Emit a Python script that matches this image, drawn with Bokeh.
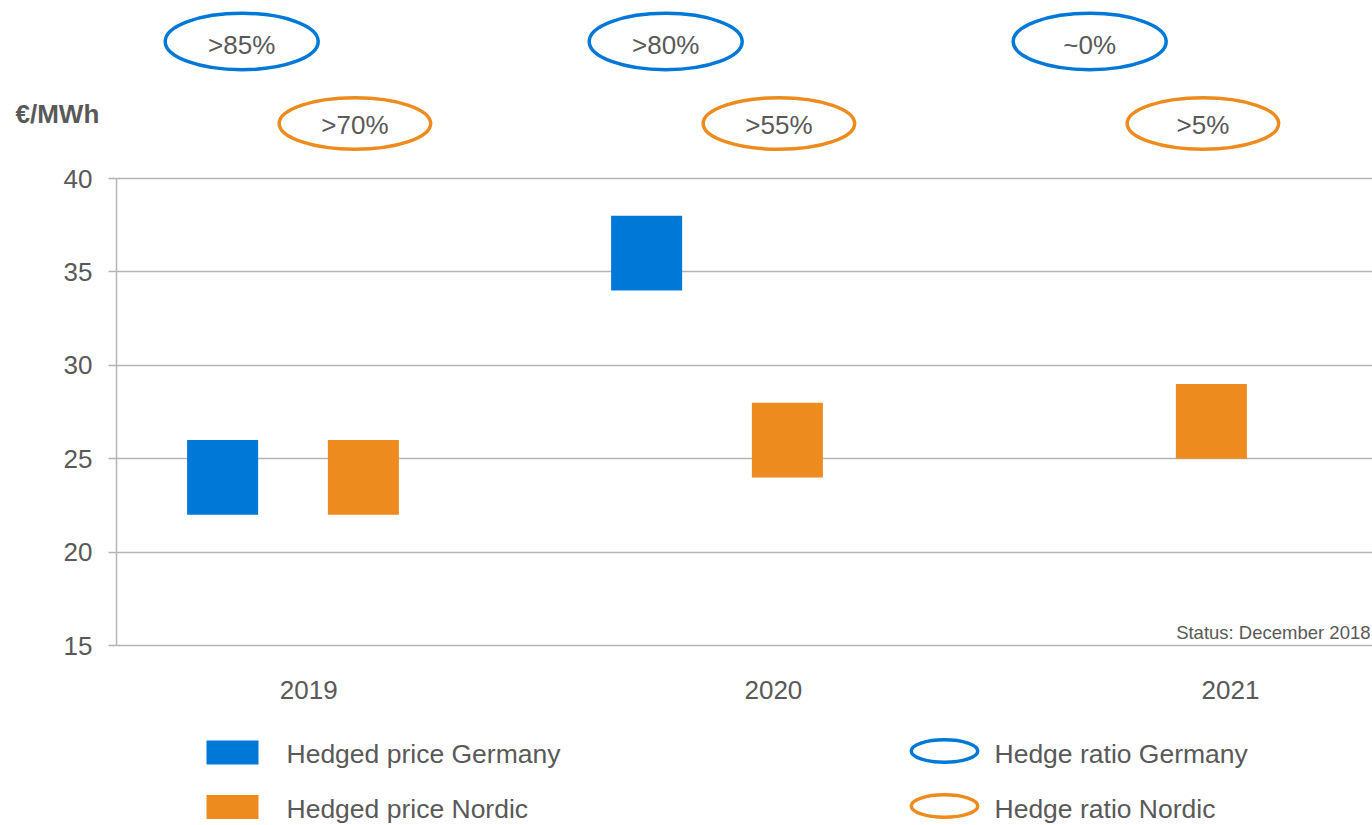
import numpy as np
from bokeh.plotting import figure
from bokeh.models import Range1d, FixedTicker
from bokeh.core.properties import value
from bokeh.embed import file_html
from bokeh.resources import INLINE

# ---------------- data ----------------
years = ["2019", "2020", "2021"]
germany_low = [22, 34, np.nan]
germany_high = [26, 38, np.nan]
nordic_low = [22, 24, 25]
nordic_high = [26, 28, 29]
germany_ratio = [">85%", ">80%", "~0%"]
nordic_ratio = [">70%", ">55%", ">5%"]
y_ticks = [15, 20, 25, 30, 35, 40]
unit_label = "€/MWh"
status_note = "Status: December 2018"
legend_price = ["Hedged price Germany", "Hedged price Nordic"]
legend_ratio = ["Hedge ratio Germany", "Hedge ratio Nordic"]

# ---------------- style / layout ----------------
BLUE = "#0078D7"
ORANGE = "#EE8B1E"
TEXT = "#595959"
GRID = "#B4B4B4"
FONT = "Liberation Sans"
W, H = 1372, 825
GROUP_PX = 424.0     # pixels between year groups
G0_PX = 292.5        # page x of first group centre
Y_PX = 18.68         # pixels per EUR/MWh
AXIS_PX = 116        # page x of the value axis


def X(px):
    return (px - G0_PX) / GROUP_PX


def Y(py):
    return 40.0 + (178.0 - py) / Y_PX


idx = np.arange(len(years))
BAR_OFF = 0.166
BAR_W = 0.1675
YEAR_SHIFT = np.array([0.037, 0.133, 0.211])

p = figure(width=W, height=H, x_range=Range1d(X(0), X(W)),
           y_range=Range1d(Y(H), Y(0)), output_backend="svg",
           toolbar_location=None, tools="", title=None,
           x_axis_location=None, y_axis_location="left",
           min_border_left=0, min_border_right=0,
           min_border_top=0, min_border_bottom=0)
p.outline_line_color = None
p.background_fill_color = "white"
p.border_fill_color = "white"

ax = p.yaxis[0]
ax.fixed_location = X(AXIS_PX)
ax.ticker = FixedTicker(ticks=y_ticks)
ax.bounds = (min(y_ticks), max(y_ticks))
ax.axis_line_color = GRID
ax.axis_line_width = 1.5
ax.major_tick_line_color = GRID
ax.major_tick_line_width = 1.5
ax.major_tick_out = 8
ax.major_tick_in = 0
ax.minor_tick_line_color = None
ax.major_label_text_font = FONT
ax.major_label_text_font_size = "26px"
ax.major_label_text_color = TEXT
ax.major_label_standoff = 16

p.xgrid.visible = False
grid = p.ygrid[0]
if "cross_bounds" in grid.properties():
    grid.ticker = FixedTicker(ticks=y_ticks)
    grid.cross_bounds = (X(AXIS_PX), X(W))
    grid.grid_line_color = GRID
    grid.grid_line_width = 1.5
else:
    grid.visible = False
    p.segment(x0=X(AXIS_PX), x1=X(W), y0=y_ticks, y1=y_ticks,
              line_color=GRID, line_width=1.5)

# floating bars
p.vbar(x=idx - BAR_OFF, bottom=germany_low, top=germany_high, width=BAR_W,
       fill_color=BLUE, line_color=None)
p.vbar(x=idx + BAR_OFF, bottom=nordic_low, top=nordic_high, width=BAR_W,
       fill_color=ORANGE, line_color=None)

# hedge ratio ellipses
txt = dict(text_font=value(FONT), text_font_size=value("26px"),
           text_color=TEXT, text_align="center", text_baseline="middle")
p.ellipse(x=idx - 0.121, y=Y(41), width=153, height=56.5,
          width_units="screen", height_units="screen",
          fill_color=None, line_color=BLUE, line_width=3.5)
p.text(x=idx - 0.121, y=Y(44), text=germany_ratio, **txt)
p.ellipse(x=idx + 0.146, y=Y(123), width=151.5, height=51.5,
          width_units="screen", height_units="screen",
          fill_color=None, line_color=ORANGE, line_width=3.5)
p.text(x=idx + 0.146, y=Y(124.5), text=nordic_ratio, **txt)

# year labels
p.text(x=idx + YEAR_SHIFT, y=Y(689), text=years, **txt)

# status note
p.text(x=[X(1370)], y=[Y(632)], text=[status_note], text_font=value(FONT),
       text_font_size=value("18.5px"), text_color=TEXT, text_align="right",
       text_baseline="middle")

# unit label
p.text(x=[X(15)], y=[Y(113.5)], text=[unit_label], text_font=value(FONT),
       text_font_style=value("bold"), text_font_size=value("26px"),
       text_color=TEXT, text_align="left", text_baseline="middle")

# legend (two columns)
rows_sw = [752, 806.5]
rows_el = [750.5, 805.5]
rows_tx = [753, 808.5]
leg_txt = dict(text_font=value(FONT), text_font_size=value("26.5px"),
               text_color=TEXT, text_align="left", text_baseline="middle")
for r, t, col, lab_ in zip(rows_sw, rows_tx, [BLUE, ORANGE], legend_price):
    p.quad(left=[X(206)], right=[X(258)], bottom=[Y(r + 12)], top=[Y(r - 12)],
           fill_color=col, line_color=None)
    p.text(x=[X(286)], y=[Y(t)], text=[lab_], **leg_txt)
for r, t, col, lab_ in zip(rows_el, rows_tx, [BLUE, ORANGE], legend_ratio):
    p.ellipse(x=[X(944)], y=[Y(r)], width=66.5, height=22.5,
              width_units="screen", height_units="screen",
              fill_color=None, line_color=col, line_width=3.5)
    p.text(x=[X(994)], y=[Y(t)], text=[lab_], **leg_txt)

open("out.html", "w").write(file_html(p, INLINE))
